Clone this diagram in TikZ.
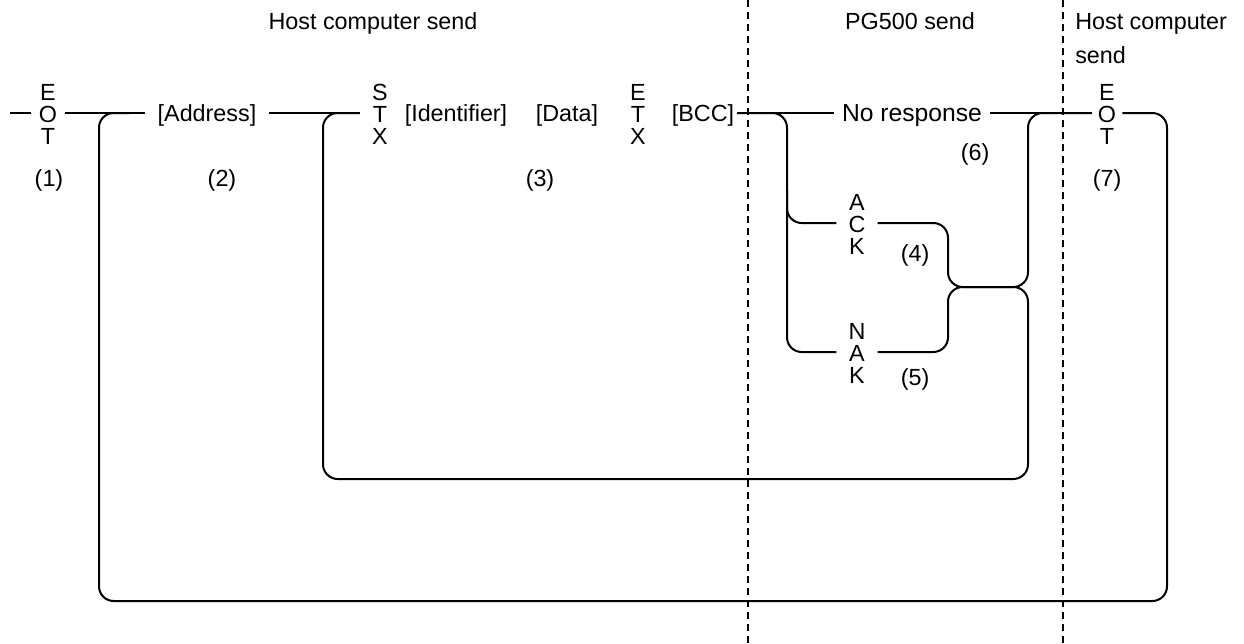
\documentclass[tikz,border=0pt]{standalone}
\usepackage{fontspec}
\setmainfont{Liberation Sans}
\begin{document}
\begin{tikzpicture}[x=0.75pt,y=-0.75pt,
  txt/.style={font=\fontsize{17.5}{21}\selectfont, inner sep=0pt, text height=12.5pt, text depth=0pt},
  bigtxt/.style={font=\fontsize{18.5}{22}\selectfont, inner ysep=0pt, text height=13.2pt, text depth=0pt},
  stack/.style={font=\fontsize{17.5}{16.5}\selectfont, align=center, inner ysep=0pt},
  wire/.style={line width=1.5pt, rounded corners=11pt},
  divider/.style={line width=1.3pt, dash pattern=on 5.25pt off 3.75pt}]
\useasboundingbox (0,0) rectangle (1244,643);

% headers
\node[txt] (h1) at (373,21) {Host computer send};
\node[txt] (h2) at (910,21) {PG500 send};
\node[txt, align=left, anchor=north west, font=\fontsize{17.5}{25.5}\selectfont, text height=, text depth=] (h3) at (1075,13) {Host computer\\send};

% dividers
\coordinate (d1t) at (748,0);
\coordinate (d1b) at (748,643);
\coordinate (d2t) at (1063,0);
\coordinate (d2b) at (1063,643);
\draw[divider] (d1t) -- (d1b);
\draw[divider] (d2t) -- (d2b);

% main row
\node[stack, inner xsep=5.5pt] (eot1) at (48,114) {E\\O\\T};
\node[txt, inner xsep=9pt] (addr) at (207,113) {[Address]};
\node[stack, inner xsep=9pt] (stx) at (380,114) {S\\T\\X};
\node[txt] (ident) at (456,113) {[Identifier]};
\node[txt] (data) at (567,113) {[Data]};
\node[stack] (etx) at (638,114) {E\\T\\X};
\node[txt, inner xsep=2pt] (bcc) at (703,113) {[BCC]};
\node[bigtxt, inner xsep=6pt] (noresp) at (912,113) {No response};
\node[stack, inner xsep=4.5pt] (eot2) at (1107,114) {E\\O\\T};
\node[stack, inner xsep=9pt] (ack) at (857,224) {A\\C\\K};
\node[stack, inner xsep=9pt] (nak) at (857,353) {N\\A\\K};

% numbers
\node[txt] (n1) at (49,178) {(1)};
\node[txt] (n2) at (222,178) {(2)};
\node[txt] (n3) at (540,178) {(3)};
\node[txt] (n4) at (915,253) {(4)};
\node[txt] (n5) at (915,377) {(5)};
\node[txt] (n6) at (975,152) {(6)};
\node[txt] (n7) at (1107,178) {(7)};

% coordinates
\coordinate (start) at (10,113);
\coordinate (bigR) at (1167,601);
\coordinate (bigUp) at (99,113);
\coordinate (bigEnd) at (130,113);
\coordinate (jL) at (948,287);
\coordinate (jR) at (1028,287);
\coordinate (loopL) at (323,479);
\coordinate (brN) at (787,352);
\coordinate (brA) at (787,190);
\coordinate (ackY) at (857,223);
\coordinate (nakY) at (857,352);

% main line
\draw[wire] (start) -- (eot1.west |- start);
\draw[wire] (eot1.east |- start) -- (addr.west);
\draw[wire] (addr.east) -- (stx.west |- start);
\draw[wire] (bcc.east) -- (noresp.west);
\draw[wire] (noresp.east) -- (eot2.west |- start);

% big loop back to address
\draw[wire] (eot2.east |- start) -| (bigR) -| (bigUp) -- (bigEnd);

% response branches
\draw[wire] (bcc.east) -| (brN) -- (nak.west |- nakY);
\draw[wire] (brA) |- (ack.west |- ackY);
\draw[wire] (ack.east |- ackY) -| (jL) -- (jR) |- (eot2.west |- start);
\draw[wire] (nak.east |- nakY) -| (jL) -- (jR) |- (loopL) |- (stx.west |- start);
\end{tikzpicture}
\end{document}
